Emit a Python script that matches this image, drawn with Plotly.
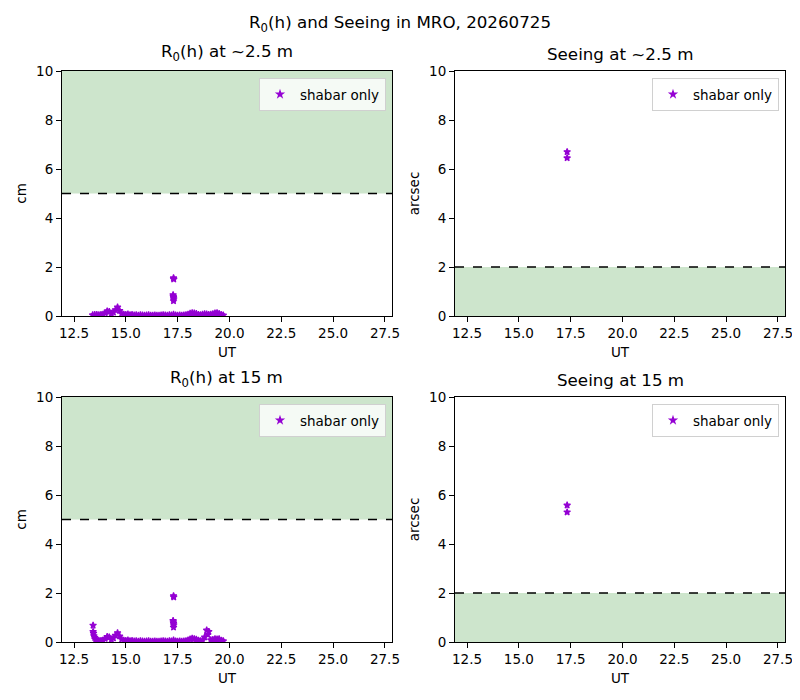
import plotly.graph_objects as go

# R0(h) at ~2.5 m  (UT, cm)
r0_low_ut = [13.4, 13.5, 13.6, 13.7, 13.8, 13.9, 14.0, 14.1, 14.2, 14.3,
             14.4, 14.5, 14.6, 14.7, 14.8, 14.9, 15.0, 15.1, 15.2, 15.3,
             15.4, 15.5, 15.6, 15.7, 15.8, 15.9, 16.0, 16.1, 16.2, 16.3,
             16.4, 16.5, 16.6, 16.7, 16.8, 16.9, 17.0, 17.1, 17.2, 17.3,
             17.4, 17.5, 17.6, 17.7, 17.8, 17.9, 18.0, 18.1, 18.2, 18.3,
             18.4, 18.5, 18.6, 18.7, 18.8, 18.9, 19.0, 19.1, 19.2, 19.3,
             19.4, 19.5, 19.6, 19.7,
             17.30, 17.31, 17.28, 17.29, 17.30, 17.31, 17.30]
r0_low_cm = [0.04, 0.05, 0.05, 0.04, 0.05, 0.06, 0.12, 0.20, 0.18, 0.10,
             0.15, 0.25, 0.36, 0.22, 0.10, 0.06, 0.05, 0.07, 0.04, 0.05,
             0.03, 0.04, 0.02, 0.04, 0.03, 0.02, 0.03, 0.04, 0.02, 0.02,
             0.03, 0.02, 0.02, 0.03, 0.04, 0.03, 0.02, 0.04, 0.03, 0.06,
             0.03, 0.02, 0.03, 0.02, 0.03, 0.04, 0.06, 0.10, 0.12, 0.11,
             0.09, 0.05, 0.04, 0.06, 0.08, 0.07, 0.05, 0.06, 0.08, 0.11,
             0.12, 0.09, 0.05, 0.03,
             1.55, 1.50, 0.86, 0.80, 0.75, 0.70, 0.62]

# R0(h) at 15 m  (UT, cm)
r0_high_ut = [13.42, 13.42, 13.44, 13.46, 13.50, 13.55,
              13.6, 13.7, 13.8, 13.9, 14.0, 14.1, 14.2, 14.3,
              14.4, 14.5, 14.6, 14.7, 14.8, 14.9, 15.0, 15.1, 15.2, 15.3,
              15.4, 15.5, 15.6, 15.7, 15.8, 15.9, 16.0, 16.1, 16.2, 16.3,
              16.4, 16.5, 16.6, 16.7, 16.8, 16.9, 17.0, 17.1, 17.2, 17.3,
              17.4, 17.5, 17.6, 17.7, 17.8, 17.9, 18.0, 18.1, 18.2, 18.3,
              18.4, 18.5, 18.6, 18.7, 18.8, 18.9, 18.95, 19.0, 19.1, 19.2,
              19.3, 19.4, 19.5, 19.6, 19.7,
              17.30, 17.31, 17.28, 17.29, 17.30, 17.31, 17.30]
r0_high_cm = [0.68, 0.42, 0.35, 0.25, 0.18, 0.12,
              0.06, 0.05, 0.05, 0.07, 0.14, 0.22, 0.20, 0.10,
              0.16, 0.27, 0.37, 0.24, 0.11, 0.06, 0.05, 0.07, 0.04, 0.05,
              0.03, 0.04, 0.02, 0.04, 0.03, 0.02, 0.03, 0.04, 0.02, 0.02,
              0.03, 0.02, 0.02, 0.03, 0.04, 0.03, 0.02, 0.04, 0.03, 0.07,
              0.03, 0.02, 0.03, 0.02, 0.03, 0.04, 0.07, 0.11, 0.15, 0.13,
              0.10, 0.06, 0.04, 0.07, 0.20, 0.48, 0.30, 0.42, 0.08, 0.09,
              0.12, 0.11, 0.12, 0.06, 0.04,
              1.88, 1.83, 0.87, 0.82, 0.76, 0.70, 0.60]

# Seeing (UT, arcsec)
see_low_ut = [17.33, 17.33]
see_low_as = [6.70, 6.45]
see_high_ut = [17.33, 17.33]
see_high_as = [5.58, 5.30]

x_ticks = [12.5, 15.0, 17.5, 20.0, 22.5, 25.0, 27.5]
y_ticks = [0, 2, 4, 6, 8, 10]

violet = "#9400d3"
green_fill = "#cde5cc"
font = "DejaVu Sans"

# the page body has an 8px margin, so the figure is drawn 8px in and 16px smaller
W, H, OFF = 792, 692, 8


def px_x(px):
    return (px - OFF) / W


def px_y(py):
    return 1 - (py - OFF) / H


left_dom, right_dom = [px_x(62), px_x(392)], [px_x(455), px_x(785)]
top_dom, bot_dom = [px_y(316), px_y(71)], [px_y(642), px_y(397)]

panels = [
    # x, y, axis suffix, domain x, domain y, ylabel, title, green band, threshold, legend
    (r0_low_ut, r0_low_cm, "", left_dom, top_dom, "cm",
     "R<sub>0</sub>(h) at ~2.5 m", (5, 10), 5, "legend"),
    (see_low_ut, see_low_as, "2", right_dom, top_dom, "arcsec",
     "Seeing at ~2.5 m", (0, 2), 2, "legend2"),
    (r0_high_ut, r0_high_cm, "3", left_dom, bot_dom, "cm",
     "R<sub>0</sub>(h) at 15 m", (5, 10), 5, "legend3"),
    (see_high_ut, see_high_as, "4", right_dom, bot_dom, "arcsec",
     "Seeing at 15 m", (0, 2), 2, "legend4"),
]

fig = go.Figure()
layout = dict(
    width=W, height=H,
    margin=dict(l=0, r=0, t=0, b=0),
    paper_bgcolor="white", plot_bgcolor="white",
    font=dict(family=font, size=13.5, color="black"),
    showlegend=True,
)
shapes = []
annotations = [dict(text="R<sub>0</sub>(h) and Seeing in MRO, 20260725",
                    x=px_x(400), y=px_y(24), xref="paper", yref="paper",
                    xanchor="center", yanchor="middle",
                    showarrow=False, font=dict(size=16.7))]

for ut, val, sfx, dx, dy, ylab, title, band, thr, leg in panels:
    xa, ya = "x" + sfx, "y" + sfx
    fig.add_trace(go.Scatter(
        x=ut, y=val, xaxis=xa, yaxis=ya, mode="markers",
        marker=dict(symbol="star", size=5, color=violet,
                    line=dict(width=1.2, color=violet)),
        name="shabar only", legend=leg,
    ))
    axis_common = dict(showline=True, linecolor="black", linewidth=1, mirror=True,
                       ticks="outside", ticklen=5, tickcolor="black",
                       showgrid=False, zeroline=False, automargin=False,
                       tickfont=dict(size=13.5))
    layout["xaxis" + sfx] = dict(domain=dx, anchor=ya, range=[11.92, 27.84],
                                 tickvals=x_ticks, ticktext=[f"{v:.1f}" for v in x_ticks],
                                 title=dict(text="UT", standoff=7, font=dict(size=13.5)),
                                 **axis_common)
    layout["yaxis" + sfx] = dict(domain=dy, anchor=xa, range=[0, 10],
                                 tickvals=y_ticks,
                                 title=dict(text=ylab, standoff=6, font=dict(size=13.5)),
                                 **axis_common)
    shapes.append(dict(type="rect", xref=xa + " domain", yref=ya, x0=0, x1=1,
                       y0=band[0], y1=band[1], fillcolor=green_fill,
                       line=dict(width=0), layer="below"))
    shapes.append(dict(type="line", xref=xa + " domain", yref=ya, x0=0, x1=1,
                       y0=thr, y1=thr, line=dict(color="black", width=1.5, dash="dash"),
                       layer="above"))
    annotations.append(dict(text=title, x=(dx[0] + dx[1]) / 2, y=dy[1] + 5 / H,
                            xref="paper", yref="paper", showarrow=False,
                            xanchor="center", yanchor="bottom", font=dict(size=16.7)))
    layout[leg] = dict(x=dx[1] - 6 / W, y=dy[1] - 7 / H, xanchor="right", yanchor="top",
                       bgcolor="rgba(255,255,255,0.8)", bordercolor="#d0d0d0",
                       borderwidth=1, font=dict(size=13.5),
                       itemwidth=30)

layout["shapes"] = shapes
layout["annotations"] = annotations
fig.update_layout(**layout)
fig.write_html("out.html")
